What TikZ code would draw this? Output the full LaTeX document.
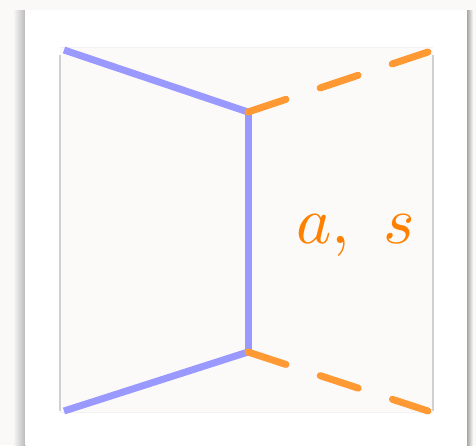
\documentclass[tikz,border=0pt]{standalone}
\usetikzlibrary{calc}
\definecolor{pagebg}{HTML}{FBF9F8}
\definecolor{innerbg}{HTML}{FCFAF9}
\definecolor{fermion}{HTML}{9999FF}
\definecolor{scalar}{HTML}{FF9933}
\definecolor{labelc}{HTML}{FF8000}
\definecolor{edgegray}{HTML}{D2D0CE}
\tikzset{
  fermionline/.style={draw=fermion,line width=7pt},
  scalarline/.style={draw=scalar,line width=7pt,line cap=round,dash pattern=on 40pt off 36pt},
  edgeline/.style={draw=edgegray,line width=2pt},
}
\begin{document}
\begin{tikzpicture}[x=1pt,y=-1pt]
\useasboundingbox (0,0) rectangle (476,445);
\fill[pagebg] (0,0) rectangle (476,445);
% page shadow
\shade[left color=pagebg,right color=black!28] (13,10) rectangle (25.5,445);
\shade[left color=black!35,right color=pagebg] (467,10) rectangle (473,445);
\fill[white] (25,10) rectangle (467,445);
% inner panel
\fill[innerbg] (60,47) rectangle (433,412);
\draw[black!5,line width=1pt] (60,47) -- (433,47);
\draw[black!5,line width=1pt] (60,412) -- (433,412);
\draw[edgeline] (59.5,55) -- (59.5,411);
\draw[edgeline] (433,55) -- (433,411);
% vertices
\coordinate (tl) at (64,50);
\coordinate (bl) at (64,411);
\coordinate (vt) at (248,112);
\coordinate (vb) at (248,352);
\coordinate (tr) at (428,52);
\coordinate (br) at (428,411);
\draw[fermionline] (tl) -- (vt);
\draw[fermionline] (bl) -- (vb);
\draw[fermionline] (vt) -- (vb);
\draw[scalarline] (vt) -- (tr);
\draw[scalarline] (vb) -- (br);
\node[text=labelc,scale=6.7,inner sep=0pt] (lab) at (355.5,235.5) {$a,\ s$};
\end{tikzpicture}
\end{document}
